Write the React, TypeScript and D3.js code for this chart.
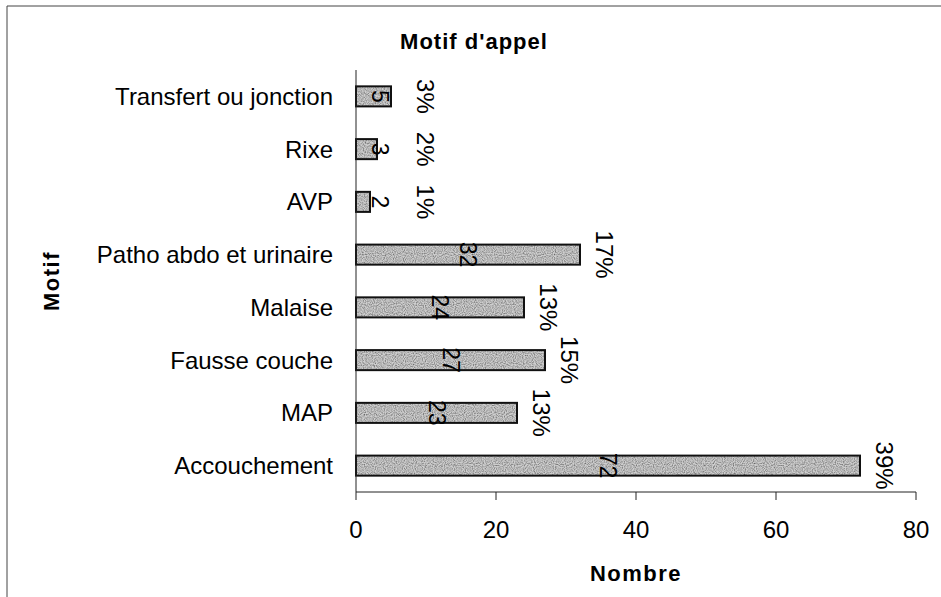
import React from "react";
import * as d3 from "d3";

const categories = [
  "Transfert ou jonction",
  "Rixe",
  "AVP",
  "Patho abdo et urinaire",
  "Malaise",
  "Fausse couche",
  "MAP",
  "Accouchement",
];
const counts = [5, 3, 2, 32, 24, 27, 23, 72];
const percents = ["3%", "2%", "1%", "17%", "13%", "15%", "13%", "39%"];
const xTicks = [0, 20, 40, 60, 80];
const chartTitle = "Motif d'appel";
const xTitle = "Nombre";
const yTitle = "Motif";

const W = 941;
const H = 597;
const FONT = "'Liberation Sans', Arial, sans-serif";

export default function App() {
  const x = d3.scaleLinear().domain([0, 80]).range([356, 916]);
  const y = d3
    .scaleBand<string>()
    .domain(categories)
    .range([70, 492])
    .paddingInner(0.62)
    .paddingOuter(0.31);
  const [x0] = x.range();
  const [yTop, yBot] = y.range();
  const bw = y.bandwidth();

  return (
    <svg
      width={W}
      height={H}
      style={{ position: "absolute", left: 0, top: 0, background: "#fff" }}
      fontFamily={FONT}
    >
      <defs>
        <filter id="grain" x="0" y="0" width="100%" height="100%">
          <feTurbulence type="fractalNoise" baseFrequency="0.9" numOctaves="1" seed="3" result="n" />
          <feColorMatrix
            in="n"
            type="matrix"
            values="0 0 0 0 0  0 0 0 0 0  0 0 0 0 0  0 0 0 1.6 -0.55"
            result="dots"
          />
          <feComposite in="dots" in2="SourceGraphic" operator="in" result="d2" />
          <feMerge>
            <feMergeNode in="SourceGraphic" />
            <feMergeNode in="d2" />
          </feMerge>
        </filter>
      </defs>

      {/* chart border (top & left visible) */}
      <line x1={7} y1={6} x2={W} y2={6} stroke="#444" strokeWidth={1} />
      <line x1={7} y1={6} x2={7} y2={H} stroke="#444" strokeWidth={1} />

      {/* title */}
      <text
        x={474}
        y={49}
        textAnchor="middle"
        fontSize={22}
        fontWeight="bold"
        letterSpacing={1}
        fill="#000"
      >
        {chartTitle}
      </text>

      {/* bars */}
      {categories.map((c, i) => (
        <g key={c}>
          <rect
            x={x(0)}
            y={y(c)!}
            width={x(counts[i]) - x(0)}
            height={bw}
            fill="#cfcfcf"
            filter="url(#grain)"
          />
          <rect
            x={x(0)}
            y={y(c)!}
            width={x(counts[i]) - x(0)}
            height={bw}
            fill="none"
            stroke="#111"
            strokeWidth={2}
          />
        </g>
      ))}

      {/* y axis */}
      <line x1={x0} y1={yTop} x2={x0} y2={yBot} stroke="#222" strokeWidth={1} />
      {categories.map((c) => (
        <text
          key={c}
          x={x0 - 23}
          y={y(c)! + bw / 2}
          textAnchor="end"
          dominantBaseline="central"
          fontSize={24}
          fill="#000"
        >
          {c}
        </text>
      ))}

      {/* x axis */}
      <line x1={x(0)} y1={yBot} x2={x(80)} y2={yBot} stroke="#222" strokeWidth={1} />
      {xTicks.map((t) => (
        <g key={t}>
          <line x1={x(t)} y1={yBot} x2={x(t)} y2={yBot + 8} stroke="#222" strokeWidth={1} />
          <text
            x={x(t)}
            y={yBot + 46}
            textAnchor="middle"
            fontSize={24}
            fill="#000"
          >
            {t}
          </text>
        </g>
      ))}

      {/* value & percent labels */}
      {categories.map((c, i) => {
        const cy = y(c)! + bw / 2;
        const vx = Math.max(x(counts[i] / 2), x(0) + 24);
        const px = Math.max(x(counts[i]) + 24, vx + 45);
        return (
          <g key={c}>
            <text
              transform={`translate(${vx},${cy}) rotate(90)`}
              textAnchor="middle"
              dominantBaseline="central"
              fontSize={23}
              fill="#000"
            >
              {counts[i]}
            </text>
            <text
              transform={`translate(${px},${cy}) rotate(90)`}
              textAnchor="middle"
              dominantBaseline="central"
              fontSize={24}
              fill="#000"
            >
              {percents[i]}
            </text>
          </g>
        );
      })}

      {/* axis titles */}
      <text
        x={(x(0) + x(80)) / 2}
        y={581}
        textAnchor="middle"
        fontSize={22}
        fontWeight="bold"
        letterSpacing={1.5}
        fill="#000"
      >
        {xTitle}
      </text>
      <text
        transform={`translate(51,${(yTop + yBot) / 2}) rotate(-90)`}
        textAnchor="middle"
        dominantBaseline="central"
        fontSize={22}
        fontWeight="bold"
        letterSpacing={1.5}
        fill="#000"
      >
        {yTitle}
      </text>
    </svg>
  );
}
